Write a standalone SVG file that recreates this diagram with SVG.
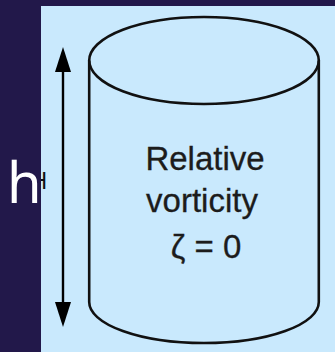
<svg xmlns="http://www.w3.org/2000/svg" width="335" height="352" viewBox="0 0 335 352">
  <style>
    .outline { fill: none; stroke: #111; stroke-width: 2.6; }
    .label { font-family: "Liberation Sans", Arial, sans-serif; font-size: 33px; fill: #1c1c1c; stroke: #1c1c1c; stroke-width: 0.3; text-anchor: middle; }
    .conn { stroke: #000; stroke-width: 2.4; fill: none; }
  </style>
  <defs>
    <marker id="head" viewBox="0 -8 25 16" markerWidth="25" markerHeight="16" refX="0" refY="0" markerUnits="userSpaceOnUse" orient="auto-start-reverse">
      <path d="M0,-8 L25,0 L0,8 Z" fill="#000"/>
    </marker>
    <clipPath id="panelClip">
      <rect x="41" y="6" width="294" height="346"/>
    </clipPath>
  </defs>
  <rect x="0" y="0" width="335" height="352" fill="#22184a"/>
  <rect x="41" y="6" width="294" height="346" fill="#c9e9fd"/>

  <g id="cylinder">
    <ellipse class="outline" cx="204" cy="60.5" rx="114.8" ry="43.5"/>
    <path class="outline" d="M89.2,60.5 L89.2,302 A114.8,41 0 0 0 318.8,302 L318.8,60.5"/>
    <text class="label" x="205" y="170">Relative</text>
    <text class="label" x="202" y="212">vorticity</text>
    <text class="label" x="206" y="258">ζ = 0</text>
  </g>

  <g id="connectors">
    <line class="conn" x1="63" y1="72" x2="63" y2="302" marker-start="url(#head)" marker-end="url(#head)"/>
  </g>

  <g id="height-label">
    <text x="30.5" y="189" clip-path="url(#panelClip)" font-family="Liberation Sans, Arial, sans-serif" font-size="23" fill="#111">H</text>
    <text x="7" y="203" font-family="'Noto Sans', sans-serif" font-size="56" fill="#ffffff">h</text>
  </g>
</svg>
